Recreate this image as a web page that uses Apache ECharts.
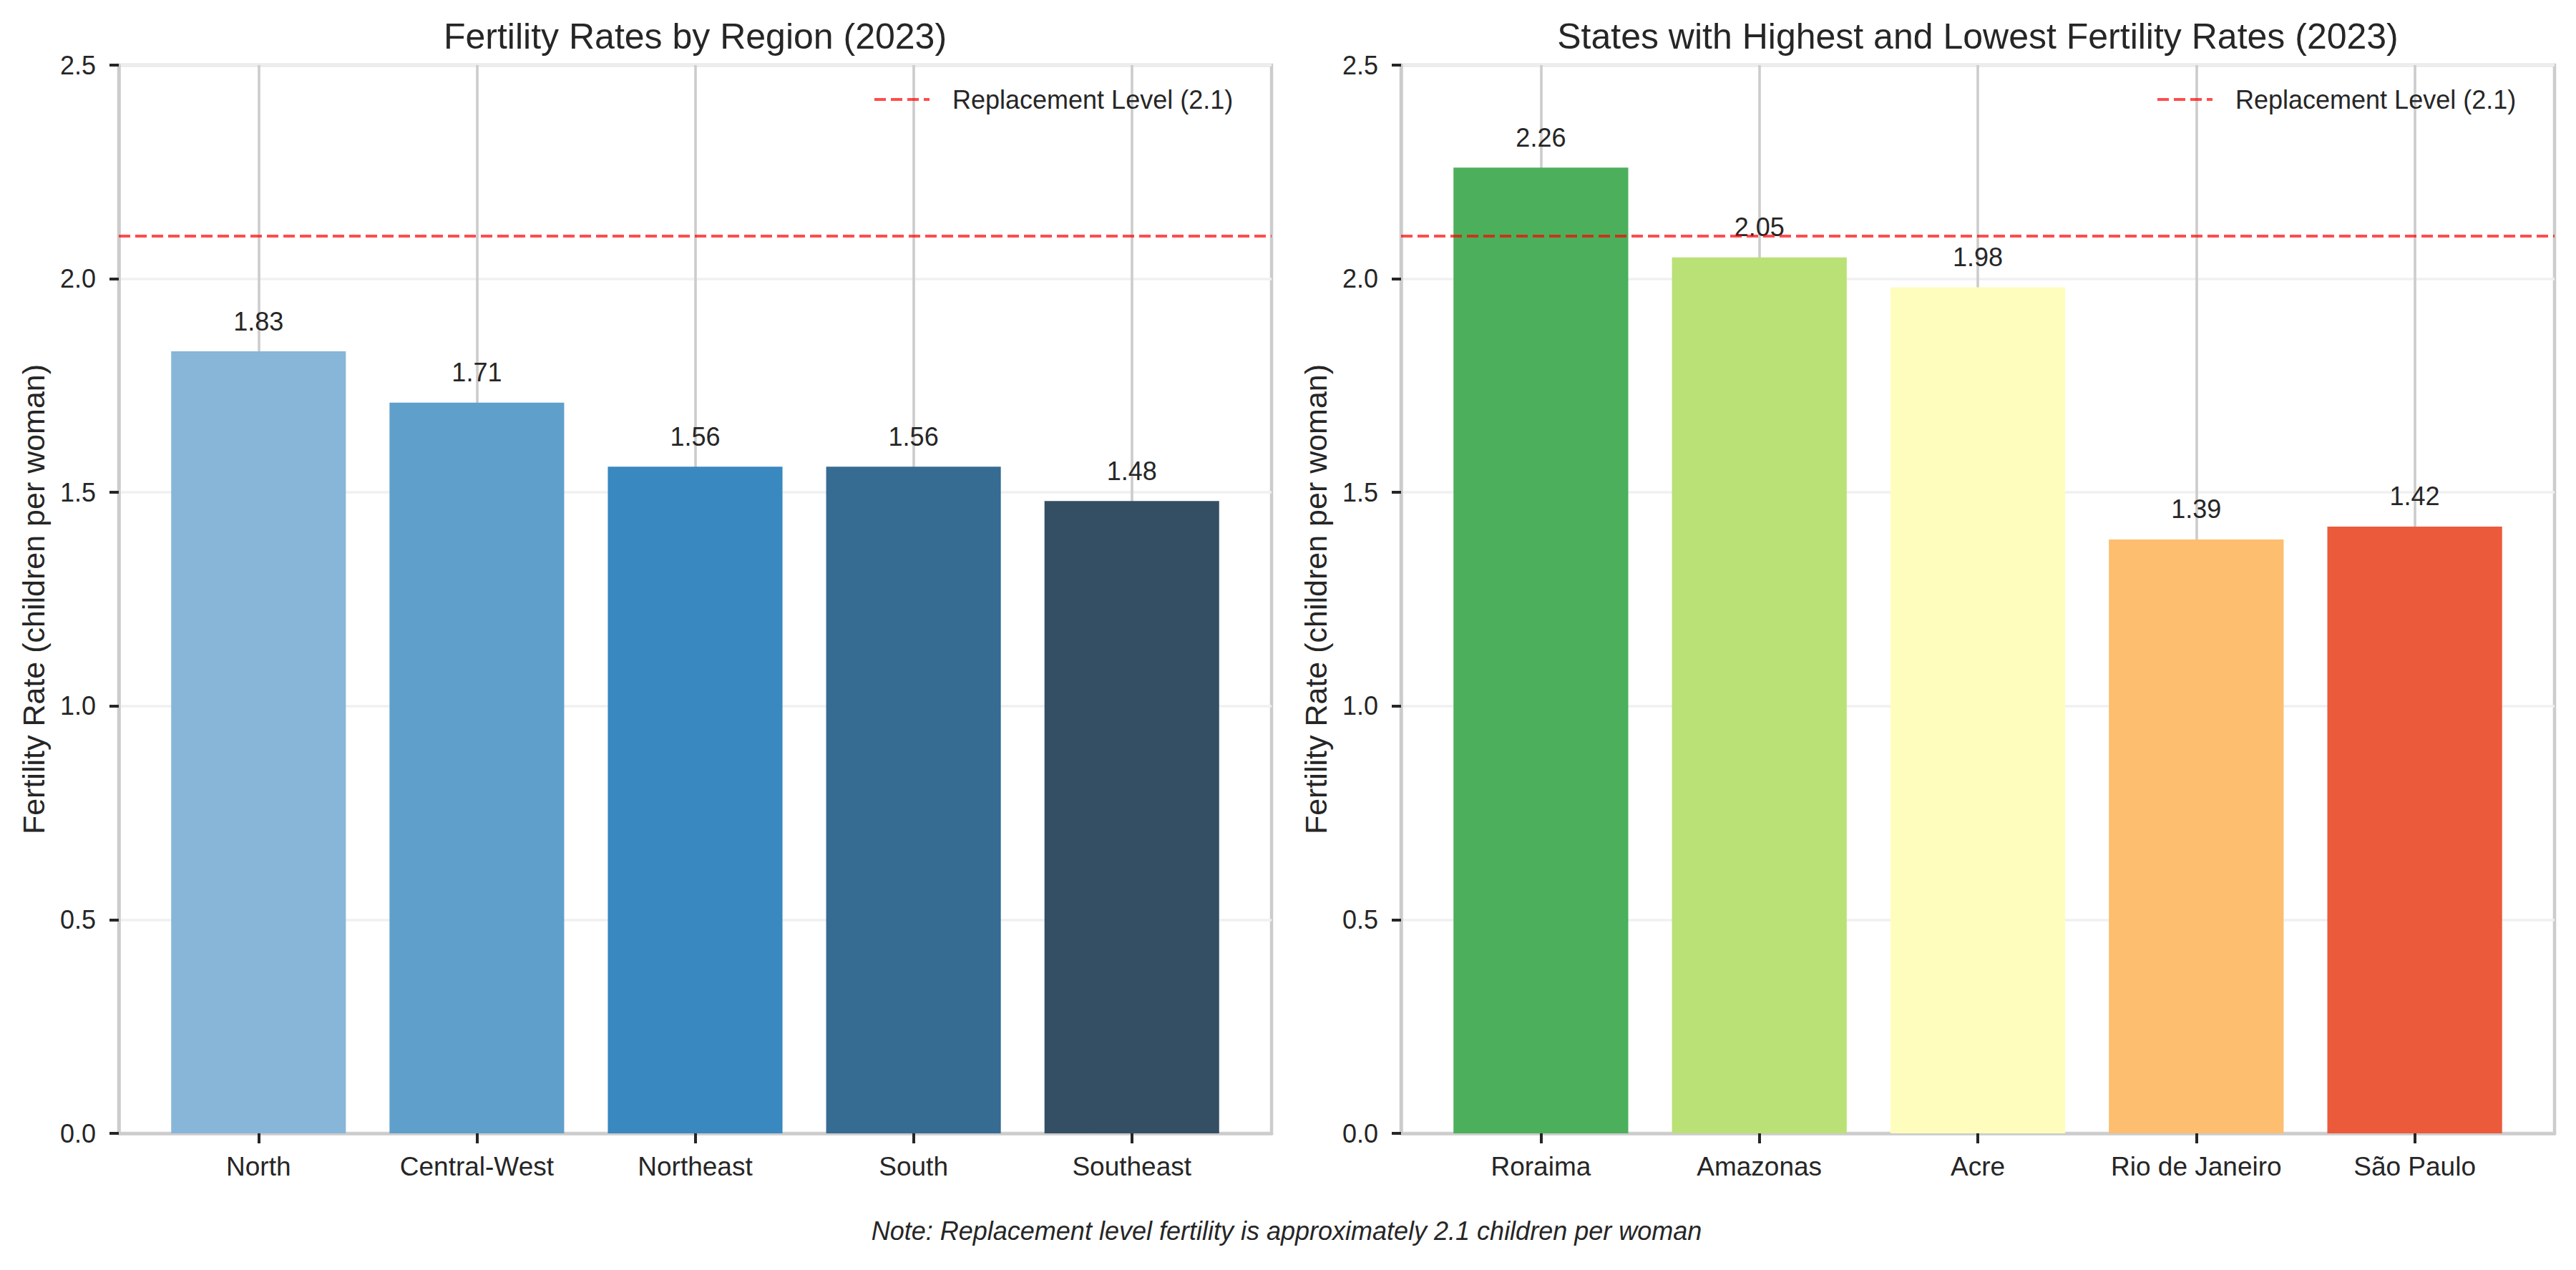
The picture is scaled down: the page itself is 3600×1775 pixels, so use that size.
<!DOCTYPE html>
<html>
<head>
<meta charset="utf-8">
<script src="https://cdn.jsdelivr.net/npm/echarts@6/dist/echarts.min.js"></script>
<style>html,body{margin:0;padding:0;background:#fff}#c{width:3600px;height:1775px}</style>
</head>
<body>
<div id="c"></div>
<script>
// ---- data ----
const regionNames = ['North', 'Central-West', 'Northeast', 'South', 'Southeast'];
const regionRates = [1.83, 1.71, 1.56, 1.56, 1.48];
const stateNames = ['Roraima', 'Amazonas', 'Acre', 'Rio de Janeiro', 'São Paulo'];
const stateRates = [2.26, 2.05, 1.98, 1.39, 1.42];
const replacementLevel = 2.1;
const yTicks = [0, 0.5, 1.0, 1.5, 2.0, 2.5];

// ---- styles ----
const regionColors = ['#87b6d8', '#5f9fcc', '#3a88c0', '#366b92', '#344f63'];
const stateColors = ['#4caf5b', '#b9e176', '#fefdbd', '#fdbe6f', '#eb5a3b'];
const TXT = '#262626';
const FONT = 'Liberation Sans, Arial, sans-serif';
const REP = 'Replacement Level (2.1)';
const repColor = 'rgba(255,0,0,0.7)';
const dashIcon = 'path://M0 0H16V4H0Z M23 0H39V4H23Z M46 0H62V4H46Z M69 0H77V4H69Z';

const grids = [
  {left: 166, right: 3600 - 1777, top: 91, bottom: 1775 - 1584},
  {left: 1958, right: 3600 - 3570, top: 91, bottom: 1775 - 1584}
];

function xAxisFor(idx, names) {
  const idxs = names.map((_, i) => i);
  return {
    type: 'value', gridIndex: idx, min: -0.64, max: 4.64,
    axisLine: {show: true, onZero: false, lineStyle: {color: '#cccccc', width: 4.5}},
    axisTick: {show: true, customValues: idxs, length: 14, lineStyle: {color: TXT, width: 4}},
    axisLabel: {show: true, customValues: idxs, margin: 28, fontSize: 37, fontFamily: FONT, color: TXT,
      formatter: v => names[Math.round(v)] || ''},
    splitLine: {show: false}
  };
}
function yAxisFor(idx) {
  return {
    type: 'value', gridIndex: idx, min: yTicks[0], max: yTicks[yTicks.length - 1], interval: 0.5,
    name: 'Fertility Rate (children per woman)', nameLocation: 'middle', nameGap: 98,
    nameTextStyle: {fontSize: 43, fontFamily: FONT, color: TXT},
    axisLine: {show: true, onZero: false, lineStyle: {color: '#cccccc', width: 4.5}},
    axisTick: {show: true, length: 13, lineStyle: {color: TXT, width: 4}},
    axisLabel: {margin: 32, fontSize: 36, fontFamily: FONT, color: TXT, formatter: v => v.toFixed(1)},
    splitLine: {show: true, lineStyle: {color: '#f0f0f0', width: 3.6}}
  };
}
function barSeries(idx, names, vals, colors) {
  return {
    type: 'bar', name: 'bars' + idx, xAxisIndex: idx, yAxisIndex: idx, barWidth: '80%', z: 3,
    data: vals.map((v, i) => ({value: [i, v], itemStyle: {color: colors[i]}})),
    label: {show: true, position: 'top', distance: 24, fontSize: 36, fontFamily: FONT, color: TXT,
      formatter: p => p.value[1].toFixed(2)}
  };
}
function gridLineSeries(idx, names) {
  return {
    type: 'line', name: 'vgrid' + idx, xAxisIndex: idx, yAxisIndex: idx, data: [], symbol: 'none',
    markLine: {silent: true, symbol: 'none', z: 1, animation: false,
      label: {show: false},
      lineStyle: {color: '#cccccc', width: 3.6, type: 'solid'},
      data: names.map((_, i) => ({xAxis: i}))}
  };
}
function repSeries(idx) {
  return {
    type: 'line', name: REP, xAxisIndex: idx, yAxisIndex: idx, data: [], symbol: 'none', z: 6,
    itemStyle: {color: repColor},
    lineStyle: {color: repColor, width: 4, type: [16, 7]},
    markLine: {silent: true, symbol: 'none', z: 6, animation: false,
      label: {show: false},
      lineStyle: {color: repColor, width: 4, type: [16, 7]},
      data: [{yAxis: replacementLevel}]}
  };
}
function legendFor(left) {
  return {
    left: left, top: 121, padding: 0, itemWidth: 77, itemHeight: 4, selectedMode: false,
    data: [{name: REP, icon: dashIcon}],
    itemStyle: {color: repColor, borderWidth: 0},
    lineStyle: {width: 0},
    textStyle: {fontSize: 36, fontFamily: FONT, color: TXT, padding: [0, 0, 0, 27]}
  };
}

const chart = echarts.init(document.getElementById('c'), null, {renderer: 'svg'});
chart.setOption({
  animation: false,
  backgroundColor: '#ffffff',
  grid: grids.map(g => Object.assign({show: true, borderColor: '#cccccc', borderWidth: 4.5, backgroundColor: 'transparent'}, g)),
  xAxis: [xAxisFor(0, regionNames), xAxisFor(1, stateNames)],
  yAxis: [yAxisFor(0), yAxisFor(1)],
  legend: [legendFor(1222), legendFor(3015)],
  series: [
    gridLineSeries(0, regionNames), gridLineSeries(1, stateNames),
    barSeries(0, regionNames, regionRates, regionColors),
    barSeries(1, stateNames, stateRates, stateColors),
    repSeries(0), repSeries(1)
  ],
  graphic: [
    {type: 'text', x: (166 + 1777) / 2, y: 51, style: {text: 'Fertility Rates by Region (2023)', font: '50px ' + FONT, fill: TXT, textAlign: 'center', textVerticalAlign: 'middle'}},
    {type: 'text', x: (1958 + 3570) / 2, y: 51, style: {text: 'States with Highest and Lowest Fertility Rates (2023)', font: '50px ' + FONT, fill: TXT, textAlign: 'center', textVerticalAlign: 'middle'}},
    {type: 'text', x: 1798, y: 1720, style: {text: 'Note: Replacement level fertility is approximately 2.1 children per woman', font: 'italic 36px ' + FONT, fill: TXT, textAlign: 'center', textVerticalAlign: 'middle'}}
  ]
});
</script>
</body>
</html>
